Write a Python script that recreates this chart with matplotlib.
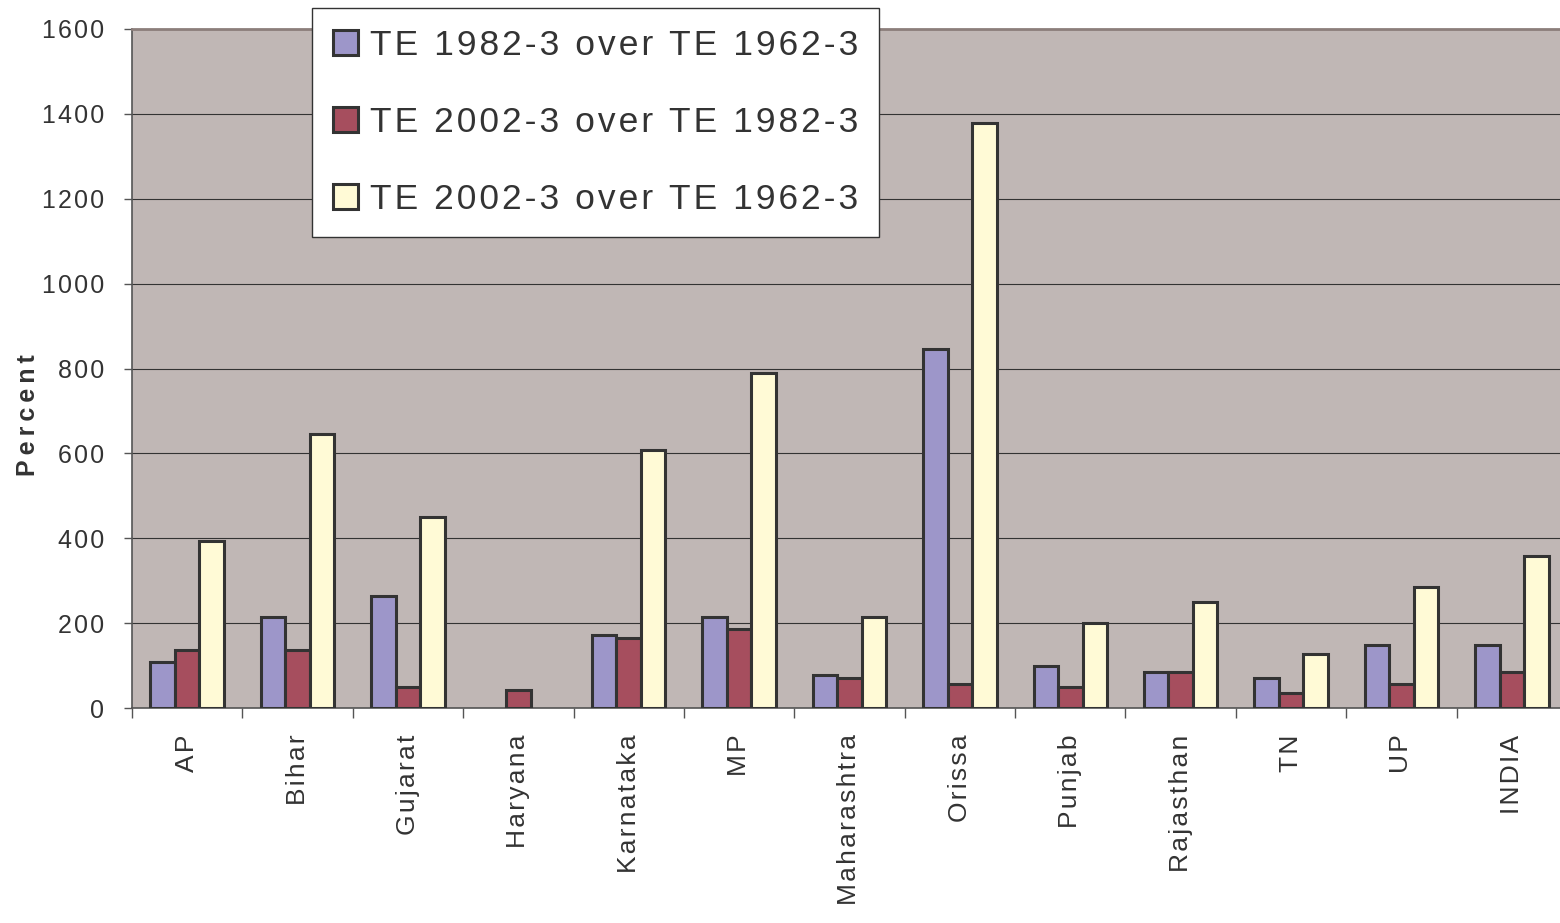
import numpy as np
import matplotlib
matplotlib.use('Agg')
import matplotlib.pyplot as plt

# values (percent growth)
states = ['AP', 'Bihar', 'Gujarat', 'Haryana', 'Karnataka', 'MP', 'Maharashtra',
          'Orissa', 'Punjab', 'Rajasthan', 'TN', 'UP', 'INDIA']
te82_over_62 = [108, 214, 264, 0, 172, 214, 78, 846, 99, 85, 71, 148, 148]
te02_over_82 = [137, 137, 49, 42, 165, 186, 71, 57, 49, 85, 35, 57, 85]
te02_over_62 = [393, 645, 450, 0, 608, 789, 214, 1378, 200, 250, 127, 285, 358]
series_names = ['TE 1982-3 over TE 1962-3',
                'TE 2002-3 over TE 1982-3',
                'TE 2002-3 over TE 1962-3']
yticks = [0, 200, 400, 600, 800, 1000, 1200, 1400, 1600]

colors = ['#9D96C9', '#A64E5E', '#FFFAD6']
plt.rcParams['font.family'] = ['Liberation Sans', 'DejaVu Sans']


def spaced(s, sep='\u200a'):
    # mimic the wide character spacing of the original
    return sep.join(s)


fig = plt.figure(figsize=(15.6, 9.23), dpi=100)
ax = fig.add_axes([132 / 1560, 1 - 708 / 923, 1435 / 1560, 679 / 923])
ax.set_facecolor('#C0B7B5')

x = np.arange(len(states))
w = 0.222
for i, vals in enumerate([te82_over_62, te02_over_82, te02_over_62]):
    vals = np.array(vals, dtype=float)
    keep = vals > 0   # empty cells show no bar
    ax.bar(x[keep] + (i - 1) * w, vals[keep], width=w, color=colors[i],
           edgecolor='#333333', linewidth=2.2, label=spaced(series_names[i]), zorder=3)

ax.set_xlim(-0.5, len(states) - 0.5)
ax.set_ylim(0, 1600)
ax.set_yticks(yticks)
ax.set_yticklabels([spaced(str(v)) for v in yticks], fontsize=18, color='#333333')
ax.set_xticks(x)
ax.set_xticklabels([spaced(s) for s in states], rotation=90, fontsize=19,
                   color='#333333', va='top')
ax.set_xticks(np.arange(len(states) + 1) - 0.5, minor=True)
ax.tick_params(axis='x', which='major', length=0, pad=19)
ax.tick_params(axis='x', which='minor', length=7, width=1, color='#555555')
ax.tick_params(axis='y', length=6, width=1, color='#555555', pad=14)

ax.grid(axis='y', color='#333333', linewidth=0.8, zorder=0)
ax.set_axisbelow(True)
for side in ['left', 'bottom']:
    ax.spines[side].set_color('#555555')
    ax.spines[side].set_linewidth(1.2)
ax.spines['top'].set_color('#8C7E7B')
ax.spines['top'].set_linewidth(2)
ax.spines['right'].set_visible(False)

fig.text(28 / 1560, 1 - 415 / 923, spaced('Percent', '\u2009'), rotation=90, ha='center',
         va='center', fontsize=18, fontweight='bold', color='#333333')

leg = fig.legend(loc='upper left', bbox_to_anchor=(312 / 1560, 1 - 8 / 923),
                 fontsize=25.5, frameon=True, fancybox=False, edgecolor='#333333',
                 framealpha=1, borderaxespad=0, handlelength=0.72, handleheight=0.72,
                 handletextpad=0.33, labelspacing=1.25, borderpad=0.58)
leg.get_frame().set_linewidth(1)
for t in leg.get_texts():
    t.set_color('#333333')

fig.savefig('out.png', dpi=100)
